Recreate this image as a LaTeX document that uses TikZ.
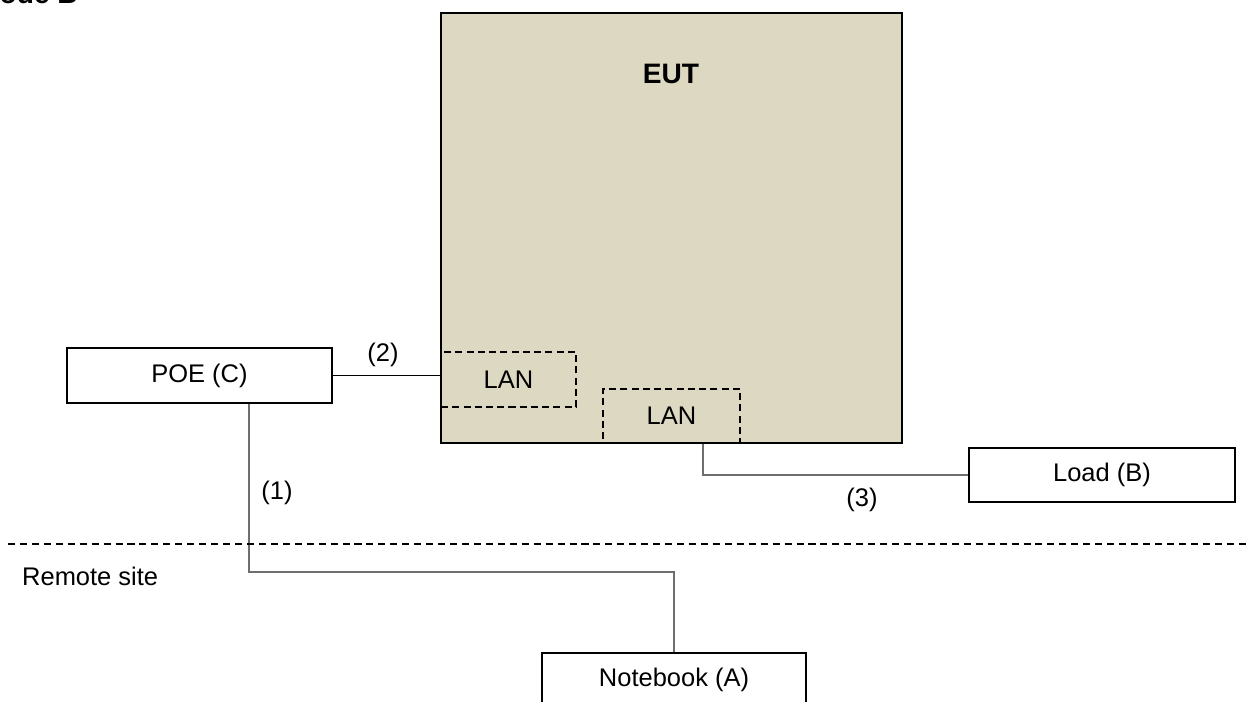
\documentclass[tikz,border=0pt]{standalone}
\usepackage{fontspec}
\setmainfont{Liberation Sans}
\usetikzlibrary{positioning}

\definecolor{euttan}{RGB}{221,216,194}
\definecolor{wiregray}{RGB}{110,110,110}

\tikzset{
  unitbox/.style={draw, line width=1.1pt, inner sep=0pt, font=\fontsize{14.5}{17}\selectfont},
  portbox/.style={draw, dash pattern=on 4pt off 2.4pt, line width=0.9pt, inner sep=0pt, font=\fontsize{14.5}{17}\selectfont},
  wire/.style={draw=wiregray, line width=0.7pt},
  tag/.style={font=\fontsize{14.5}{17}\selectfont}
}

\begin{document}
\begin{tikzpicture}[x=0.02cm, y=-0.02cm]
			\useasboundingbox (0,0) rectangle (1255,702);

			% title, cut by the page edge
			\node [anchor=base east, font=\bfseries\fontsize{16}{19}\selectfont] (title) at (84,4) {Mode B};

			% equipment under test
			\node [unitbox, fill=euttan, minimum width=9.22cm, minimum height=8.6cm] (eut) at (671.5,228) {};
			\node [font=\bfseries\fontsize{16}{19}\selectfont] (euttitle) at (671,74) {EUT};
			\node [portbox, minimum width=2.7cm, minimum height=1.1cm] (lan1) at (508.5,379.5) {LAN};
			\node [portbox, minimum width=2.74cm, minimum height=1.08cm] (lan2) at (671.5,416) {LAN};

			% auxiliary units
			\node [unitbox, minimum width=5.3cm, minimum height=1.1cm] (poe) at (199.5,375.5) {POE (C)};
			\node [unitbox, minimum width=5.32cm, minimum height=1.08cm] (load) at (1102,475) {Load (B)};
			\node [unitbox, minimum width=5.28cm, minimum height=1.08cm] (notebook) at (674,680) {Notebook (A)};

			% cables
			\coordinate (bend1) at (460,572);
			\draw [line width=0.7pt] (poe.east) -- (poe.east -| lan1.west);
			\draw [wire] ([xshift=0.99cm]poe.south) |- (bend1) -| (notebook.north);
			\draw [wire] ([xshift=0.63cm]lan2.south) |- (load.west);
			\node [tag] (c1) at (277,493) {(1)};
			\node [tag] (c2) at (383,355) {(2)};
			\node [tag] (c3) at (862,500) {(3)};

			% site border
			\draw [dash pattern=on 4pt off 2.8pt, line width=0.9pt] (8,544) -- (1250,544);
			\node [tag, anchor=west] (remote) at (16,576) {Remote site};
\end{tikzpicture}
\end{document}
